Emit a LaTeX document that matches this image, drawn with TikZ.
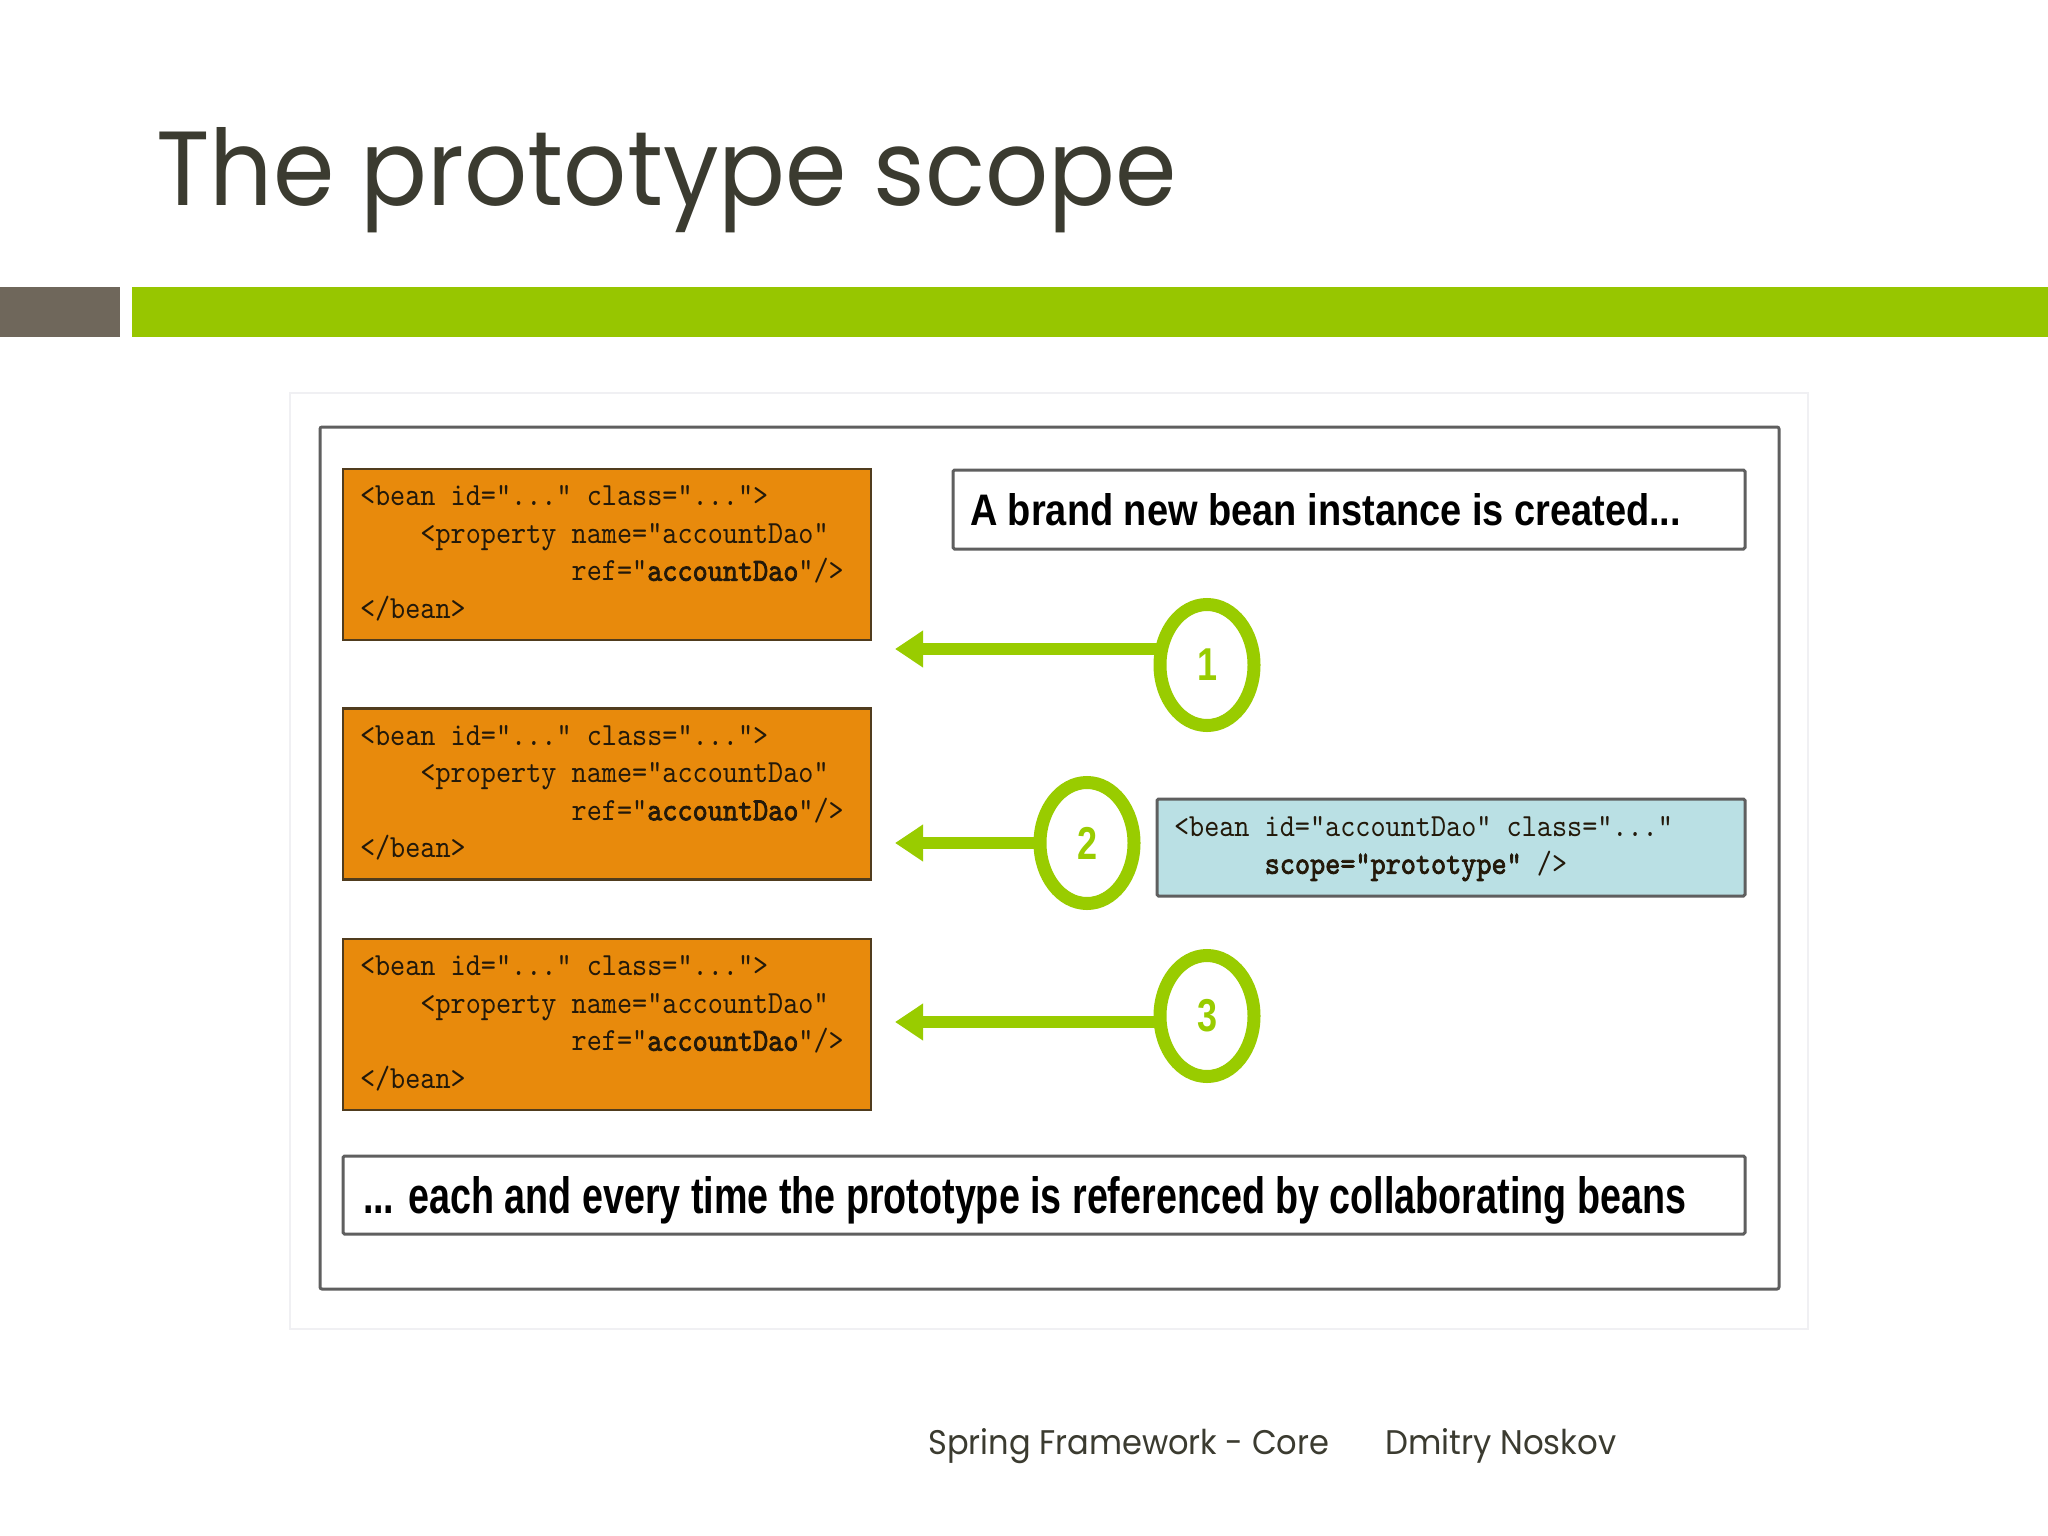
\documentclass[tikz,border=0pt]{standalone}
\usepackage{fontspec}
\usepackage{graphicx}
\setmainfont{Liberation Sans}
\newfontfamily\titlefont{Poppins}
\newfontfamily\codefont{lmmono10-regular.otf}
\newfontfamily\codebold[FakeBold=2.5]{lmmono10-regular.otf}
\usetikzlibrary{arrows.meta,shapes.geometric}

\definecolor{titlecol}{RGB}{59,59,48}
\definecolor{bargray}{RGB}{111,103,91}
\definecolor{bargreen}{RGB}{151,198,0}
\definecolor{beanorange}{RGB}{232,138,12}
\definecolor{beanborder}{RGB}{80,60,30}
\definecolor{protoblue}{RGB}{186,224,228}
\definecolor{ringgreen}{RGB}{153,204,0}
\definecolor{framegray}{RGB}{95,95,95}
\definecolor{faintgray}{RGB}{240,240,243}
\definecolor{codeink}{RGB}{35,25,10}

\newcommand\codelines[1]{\scalebox{1}[1.12]{\codefont\fontsize{28.8}{33.5}\selectfont\spaceskip=0pt\xspaceskip=0pt\begin{tabular}{@{}l@{}}#1\end{tabular}}}
\newcommand\codeb[1]{{\codebold #1}}
\newcommand\fittext[3]{\resizebox{#1}{#2}{\spaceskip=0pt\xspaceskip=0pt #3}}
\newcommand\ringdigit[1]{\scalebox{1}[1.28]{\fontsize{36}{36}\selectfont\bfseries #1}}
\newcommand\beancode{%
  \codelines{<bean id="..." class="...">\\
  \phantom{0000}<property name="accountDao"\\
  \phantom{00000000000000}ref="\codeb{accountDao}"/>\\
  </bean>}}

\tikzset{
  beanbox/.style={draw=beanborder, fill=beanorange, line width=2.5pt,
    minimum width=528pt, minimum height=171pt, inner xsep=17pt, inner ysep=0pt,
    text width=494pt, align=left, text=codeink},
  protobox/.style={draw=framegray, fill=protoblue, line width=3pt, rounded corners=1.5pt,
    minimum width=588pt, minimum height=97pt, inner xsep=17pt, inner ysep=0pt,
    text width=554pt, align=left, text=codeink},
  notebox/.style={draw=framegray, fill=white, line width=3pt, rounded corners=1.5pt,
    inner ysep=0pt, align=left, text depth=0pt, font=\bfseries},
  ring/.style={ellipse, draw=ringgreen, line width=13pt, fill=white,
    minimum width=94pt, minimum height=121pt, inner sep=0pt, text=ringgreen},
  greenarrow/.style={draw=ringgreen, line width=12pt,
    -{Triangle[length=28pt,width=35pt]}, shorten <=-6pt},
  slidetext/.style={anchor=base west, inner sep=0pt, text=titlecol}
}

\begin{document}
\begin{tikzpicture}[x=1pt,y=-1pt]
\fill[white] (0,0) rectangle (2048,1536);
\useasboundingbox (0,0) rectangle (2048,1536);

% title and bars
\node[slidetext] (title) at (156,205) {\resizebox{1020pt}{78pt}{\titlefont The prototype scope}};
\fill[bargray] (0,287) rectangle (120,337);
\fill[bargreen] (132,287) rectangle (2048,337);

% frames
\draw[faintgray, line width=1.5pt] (290,393) rectangle (1808,1329);
\draw[framegray, line width=3pt, rounded corners=2pt] (320,427) rectangle (1779,1289);

% bean boxes
\node[beanbox] (b1) at (607,554.5) {\beancode};
\node[beanbox] (b2) at (607,794) {\beancode};
\node[beanbox] (b3) at (607,1024.5) {\beancode};

% notes
\node[notebox, minimum width=792pt, minimum height=79pt, inner xsep=17pt, text width=758pt]
  (noteA) at (1349,509.5) {\fittext{711pt}{32pt}{A brand new bean instance is created...}};
\node[notebox, minimum width=1402pt, minimum height=78pt, inner xsep=20pt, text width=1362pt]
  (noteB) at (1044,1195) {\fittext{1323pt}{37pt}{... each and every time the prototype is referenced by collaborating beans}};

% prototype definition
\node[protobox] (proto) at (1451,847.5) {\codelines{<bean id="accountDao" class="..."\\
  \phantom{000000}\codeb{scope="prototype"} />}};

% rings
\node[ring] (c1) at (1207,665) {\ringdigit{1}};
\node[ring] (c2) at (1087,843) {\ringdigit{2}};
\node[ring] (c3) at (1207,1016) {\ringdigit{3}};

% arrows
\coordinate (t1) at (895,649);
\coordinate (t2) at (895,843);
\coordinate (t3) at (895,1022);
\draw[greenarrow] (c1.west |- t1) -- (t1);
\draw[greenarrow] (c2.west |- t2) -- (t2);
\draw[greenarrow] (c3.west |- t3) -- (t3);

% footer
\node[slidetext] (foot1) at (928,1454) {\resizebox{401pt}{26pt}{\titlefont Spring Framework - Core}};
\node[slidetext] (foot2) at (1385,1454) {\resizebox{231pt}{26pt}{\titlefont Dmitry Noskov}};
\end{tikzpicture}
\end{document}
